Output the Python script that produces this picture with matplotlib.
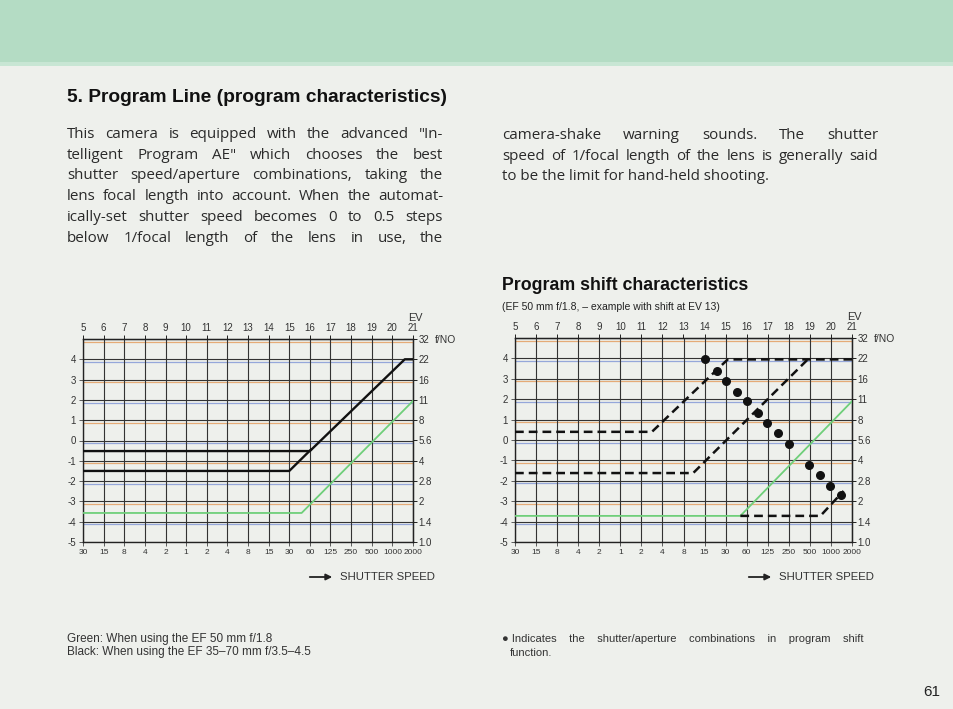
import matplotlib
matplotlib.use("Agg")
import matplotlib.pyplot as plt
from matplotlib.patches import Rectangle, FancyArrowPatch

# ---------------- data ----------------
shutter_labels = ["30", "15", "8", "4", "2", "1", "2", "4", "8", "15", "30", "60",
                  "125", "250", "500", "1000", "2000"]
ev_labels = [str(v) for v in range(5, 22)]
fno_labels = ["1.0", "1.4", "2", "2.8", "4", "5.6", "8", "11", "16", "22", "32"]
left_labels = [str(v) for v in range(-5, 5)]

# left chart (x = shutter stop index, y = aperture stop index)
green_x = [0, 10.6, 16.0]
green_y = [1.43, 1.43, 6.95]
black_upper_x = [0, 11.0, 15.6, 16.0]
black_upper_y = [4.48, 4.48, 9.0, 9.0]
black_lower_x = [0, 10.0, 11.05]
black_lower_y = [3.5, 3.5, 4.55]

# right chart
shiftA_x = [0, 6.5, 10.1, 16.0]
shiftA_y = [5.4, 5.4, 8.95, 8.95]
shiftB_x = [0, 8.46, 13.9]
shiftB_y = [3.38, 3.38, 8.95]
shiftC_x = [10.7, 14.5, 15.6]
shiftC_y = [1.28, 1.28, 2.5]
green2_x = [0, 10.7, 16.0]
green2_y = [1.28, 1.28, 6.9]
dots_x = [9.02, 9.58, 10.02, 10.56, 11.03, 11.52, 11.98, 12.5, 13.0, 13.97, 14.48, 14.96, 15.47]
dots_y = [8.96, 8.40, 7.91, 7.37, 6.91, 6.34, 5.85, 5.36, 4.8, 3.79, 3.28, 2.76, 2.30]

W, H = 954, 709
fig = plt.figure(figsize=(W / 100, H / 100), dpi=100)
fig.patch.set_facecolor("#eef0ec")
FONT = "Liberation Sans"
BODY = "Open Sans"
plt.rcParams["font.family"] = FONT

def fx(x): return x / W
def fy(y): return 1 - y / H

# green band
fig.patches.append(Rectangle((0, fy(66)), 1, 66 / H, transform=fig.transFigure,
                             facecolor="#b4dcc4", edgecolor="none"))
fig.patches.append(Rectangle((0, fy(66)), 1, 4 / H, transform=fig.transFigure,
                             facecolor="#c8e6d4", edgecolor="none"))

fig.text(fx(67), fy(97), "5. Program Line (program characteristics)", fontsize=13.8,
         fontweight="bold", va="center", color="#111")

fig.canvas.draw()
renderer = fig.canvas.get_renderer()

def justified(lines, x0, x1, y0, dy, size, family, last_left=True):
    for i, line in enumerate(lines):
        y = fy(y0 + i * dy)
        words = line.split()
        if (last_left and i == len(lines) - 1) or len(words) == 1:
            fig.text(fx(x0), y, line, fontsize=size, family=family, va="baseline", color="#2a2a2a")
            continue
        widths = []
        for w in words:
            t = fig.text(0, 0, w, fontsize=size, family=family)
            widths.append(t.get_window_extent(renderer).width)
            t.remove()
        gap = (x1 - x0 - sum(widths)) / (len(words) - 1)
        x = x0
        for w, wd in zip(words, widths):
            fig.text(fx(x), y, w, fontsize=size, family=family, va="baseline", color="#2a2a2a")
            x += wd + gap

left_par = ["This camera is equipped with the advanced \"In-",
            "telligent Program AE\" which chooses the best",
            "shutter speed/aperture combinations, taking the",
            "lens focal length into account. When the automat-",
            "ically-set shutter speed becomes 0 to 0.5 steps",
            "below 1/focal length of the lens in use, the"]
justified(left_par, 67, 443, 138, 20.7, 10.9, BODY, last_left=False)
right_par = ["camera-shake warning sounds. The shutter",
             "speed of 1/focal length of the lens is generally said",
             "to be the limit for hand-held shooting."]
justified(right_par, 502, 878, 139, 20.7, 10.9, BODY)

fig.text(fx(502), fy(286), "Program shift characteristics", fontsize=12.8,
         fontweight="bold", va="center", color="#111")
fig.text(fx(502), fy(307), "(EF 50 mm f/1.8, \u2013 example with shift at EV 13)",
         fontsize=7.5, va="center", color="#222")

hcolors = ["#e39a5a", "#7f95d6"]

def chart(x0, x1, y0, y1):
    ax = fig.add_axes([fx(x0), fy(y1), (x1 - x0) / W, (y1 - y0) / H])
    ax.set_xlim(0, 16)
    ax.set_ylim(0, 10)
    ax.set_facecolor("none")
    for k in range(1, 11):
        ax.axhline(k - 0.13, color=hcolors[k % 2], lw=0.9, alpha=0.8, zorder=1)
    for k in range(11):
        ax.axhline(k, color="#333", lw=0.8, zorder=2)
    for k in range(17):
        ax.axvline(k, color="#333", lw=0.8, zorder=2)
    for s in ax.spines.values():
        s.set_color("#222"); s.set_linewidth(1.0)
    ax.set_xticks(range(17))
    ax.set_xticklabels(shutter_labels, fontsize=6.0, color="#333")
    ax.set_yticks(range(10))
    ax.set_yticklabels(left_labels, fontsize=7, color="#333")
    ax.tick_params(axis="both", length=3, width=0.6, pad=2, color="#444")
    top = ax.secondary_xaxis("top")
    top.set_xticks(range(17))
    top.set_xticklabels(ev_labels, fontsize=7, color="#333")
    top.tick_params(length=3, width=0.6, pad=1)
    right = ax.secondary_yaxis("right")
    right.set_yticks(range(11))
    right.set_yticklabels(fno_labels, fontsize=7, color="#333")
    right.tick_params(length=3, width=0.6, pad=1)
    fig.text(fx(x1 + 22), fy(y0 + 1), "f/NO", fontsize=7.4, va="center", color="#333")
    fig.text(fx(x1 + 2), fy(y0 - 21), "EV", fontsize=7.8, ha="center", va="center", color="#333")
    # shutter speed label
    arr = FancyArrowPatch((fx(x1 - 106), fy(y1 + 35)), (fx(x1 - 78), fy(y1 + 35)),
                          transform=fig.transFigure, arrowstyle="-|>", mutation_scale=9,
                          color="#222", lw=1.3)
    fig.patches.append(arr)
    fig.text(fx(x1 - 73), fy(y1 + 35), "SHUTTER SPEED", fontsize=8.2, va="center", color="#333")
    return ax

ax1 = chart(83, 413, 339, 542)
ax1.plot(green_x, green_y, color="#6fcf7a", lw=1.3, zorder=4)
ax1.plot(black_upper_x, black_upper_y, color="#111", lw=1.7, zorder=5)
ax1.plot(black_lower_x, black_lower_y, color="#111", lw=1.7, zorder=5)

ax2 = chart(515, 852, 338, 542)
ax2.plot(green2_x, green2_y, color="#6fcf7a", lw=1.3, zorder=4)
for xs, ys in [(shiftA_x, shiftA_y), (shiftB_x, shiftB_y), (shiftC_x, shiftC_y)]:
    ax2.plot(xs, ys, color="#111", lw=1.8, ls=(0, (3.5, 2)), zorder=5)
ax2.scatter(dots_x, dots_y, s=30, color="#111", zorder=6)

# captions
fig.text(fx(67), fy(639), "Green: When using the EF 50 mm f/1.8", fontsize=8.5,
         va="center", color="#333")
fig.text(fx(67), fy(652), "Black: When using the EF 35\u201370 mm f/3.5\u20134.5", fontsize=8.5,
         va="center", color="#333")
fig.text(fx(502), fy(639), "\u25cf Indicates    the    shutter/aperture    combinations    in    program    shift",
         fontsize=8.0, va="center", color="#333")
fig.text(fx(510), fy(653), "function.", fontsize=8.0, va="center", color="#333")
fig.text(fx(940), fy(692), "61", fontsize=11, ha="right", va="center", color="#222")

fig.savefig("out.png", dpi=100, facecolor=fig.get_facecolor())
